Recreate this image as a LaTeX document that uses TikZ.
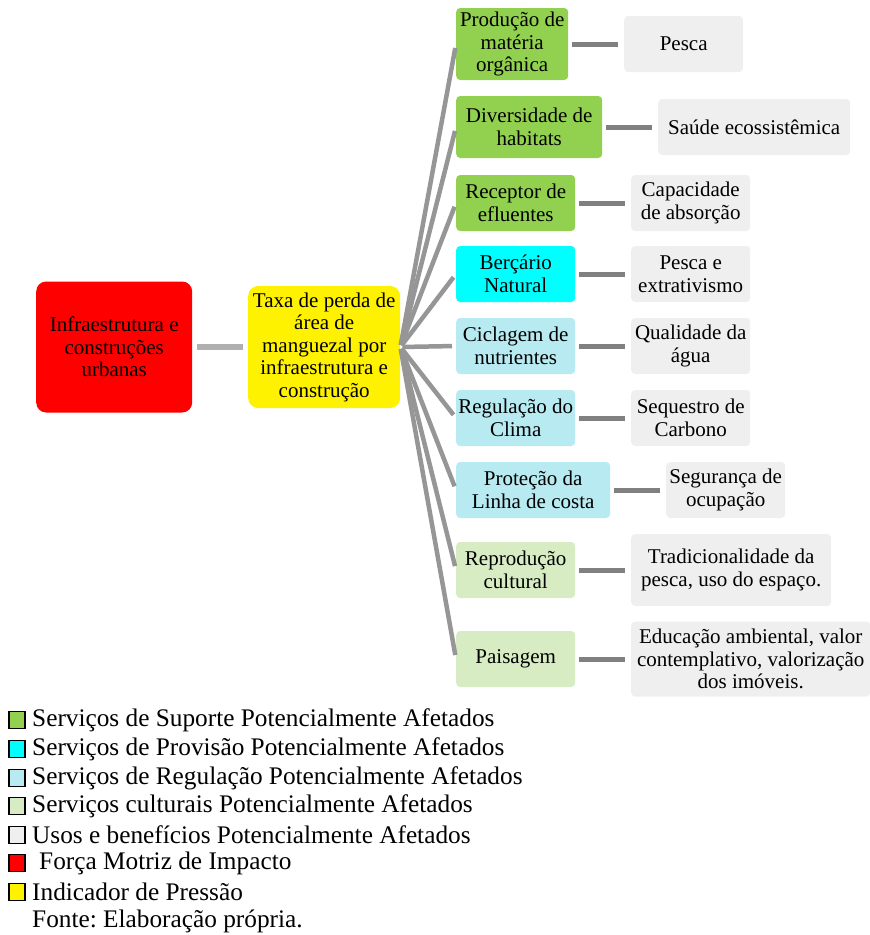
\documentclass[tikz,border=0pt]{standalone}
\usepackage{fontspec}
\setmainfont{Liberation Serif}
\usetikzlibrary{positioning}
\definecolor{supgreen}{RGB}{146,208,80}
\definecolor{provcyan}{RGB}{0,255,255}
\definecolor{regblue}{RGB}{183,234,241}
\definecolor{culgreen}{RGB}{216,236,196}
\definecolor{usegray}{RGB}{239,239,239}
\definecolor{fangray}{RGB}{150,150,150}
\definecolor{linkgray}{RGB}{128,128,128}
\definecolor{drvgray}{RGB}{176,176,176}
\frenchspacing

\tikzset{
  box/.style={rounded corners=4pt, align=center, inner sep=2pt, anchor=west,
              minimum height=56pt, font=\fontsize{21}{22.5}\selectfont},
  svcbox/.style={box, minimum width=119pt},
  usebox/.style={box, fill=usegray, minimum width=119pt},
  link/.style={draw=linkgray, line width=5pt, shorten <=4pt, shorten >=6pt},
  fanline/.style={draw=fangray, line width=4.5pt, shorten <=2pt, shorten >=4pt},
  legsq/.style={draw=black, line width=1.2pt, minimum width=16pt, minimum height=17pt, inner sep=0pt},
  legtxt/.style={anchor=west, inner sep=0pt, font=\fontsize{25.3}{28}\selectfont}
}

\begin{document}
\begin{tikzpicture}[x=1pt, y=-1pt]
    \useasboundingbox (0,0) rectangle (870,935);

    % driver and pressure
    \node[box, fill=red, rounded corners=10pt, minimum width=156pt, minimum height=131pt]
        (driver) at (36,347) {Infraestrutura e\\construções\\urbanas};
    \node[box, fill=yellow, rounded corners=10pt, minimum width=152pt, minimum height=122pt]
        (press) at (248,347) {Taxa de perda de\\área de\\manguezal por\\infraestrutura e\\construção};
    \draw[draw=drvgray, line width=6pt, shorten <=5pt, shorten >=5pt] (driver) -- (press);

    % services
    \node[svcbox, fill=supgreen, minimum width=112pt, minimum height=72pt] (s1) at (456,44) {Produção de\\matéria\\orgânica};
    \node[svcbox, fill=supgreen, minimum width=146pt, minimum height=62pt] (s2) at (456,127) {Diversidade de\\habitats};
    \node[svcbox, fill=supgreen] (s3) at (456,203) {Receptor de\\efluentes};
    \node[svcbox, fill=provcyan] (s4) at (456,274) {Berçário\\Natural};
    \node[svcbox, fill=regblue] (s5) at (456,346) {Ciclagem de\\nutrientes};
    \node[svcbox, fill=regblue] (s6) at (456,418) {Regulação do\\Clima};
    \node[svcbox, fill=regblue, minimum width=154pt] (s7) at (456,490) {Proteção da\\Linha de costa};
    \node[svcbox, fill=culgreen] (s8) at (456,570) {Reprodução\\cultural};
    \node[svcbox, fill=culgreen] (s9) at (456,659) {Paisagem};

    % uses and benefits
    \node[usebox] (u1) at (624,44) {Pesca};
    \node[usebox, minimum width=192pt] (u2) at (658,127) {Saúde ecossistêmica};
    \node[usebox] (u3) at (631,203) {Capacidade\\de absorção};
    \node[usebox] (u4) at (631,274) {Pesca e\\extrativismo};
    \node[usebox] (u5) at (631,346) {Qualidade da\\água};
    \node[usebox] (u6) at (631,418) {Sequestro de\\Carbono};
    \node[usebox] (u7) at (666,490) {Segurança de\\ocupação};
    \node[usebox, minimum width=200pt, minimum height=72pt] (u8) at (631,570) {Tradicionalidade da\\pesca, uso do espaço.};
    \node[usebox, minimum width=239pt, minimum height=75pt] (u9) at (631,659) {Educação ambiental, valor\\contemplativo, valorização\\dos imóveis.};

    \foreach \i in {1,...,9} {
        \draw[fanline] (press.east) -- (s\i.west);
        \draw[link] (s\i) -- (u\i);
    }

    % legend
    \node[legsq, fill=supgreen] (k1) at (17,720) {};
    \node[legsq, fill=provcyan] (k2) at (17,749) {};
    \node[legsq, fill=regblue] (k3) at (17,778) {};
    \node[legsq, fill=culgreen] (k4) at (17,806) {};
    \node[legsq, fill=usegray] (k5) at (17,835) {};
    \node[legsq, fill=red] (k6) at (17,863) {};
    \node[legsq, fill=yellow] (k7) at (17,892) {};
    \node[legtxt] (t1) at (32,720) {Serviços de Suporte Potencialmente Afetados};
    \node[legtxt] (t2) at (32,749) {Serviços de Provisão Potencialmente Afetados};
    \node[legtxt] (t3) at (32,778) {Serviços de Regulação Potencialmente Afetados};
    \node[legtxt] (t4) at (32,806) {Serviços culturais Potencialmente Afetados};
    \node[legtxt] (t5) at (32,835) {Usos e benefícios Potencialmente Afetados};
    \node[legtxt] (t6) at (39,863) {Força Motriz de Impacto};
    \node[legtxt] (t7) at (32,892) {Indicador de Pressão};
    \node[legtxt] (src) at (32,921) {Fonte: Elaboração própria.};
\end{tikzpicture}
\end{document}
